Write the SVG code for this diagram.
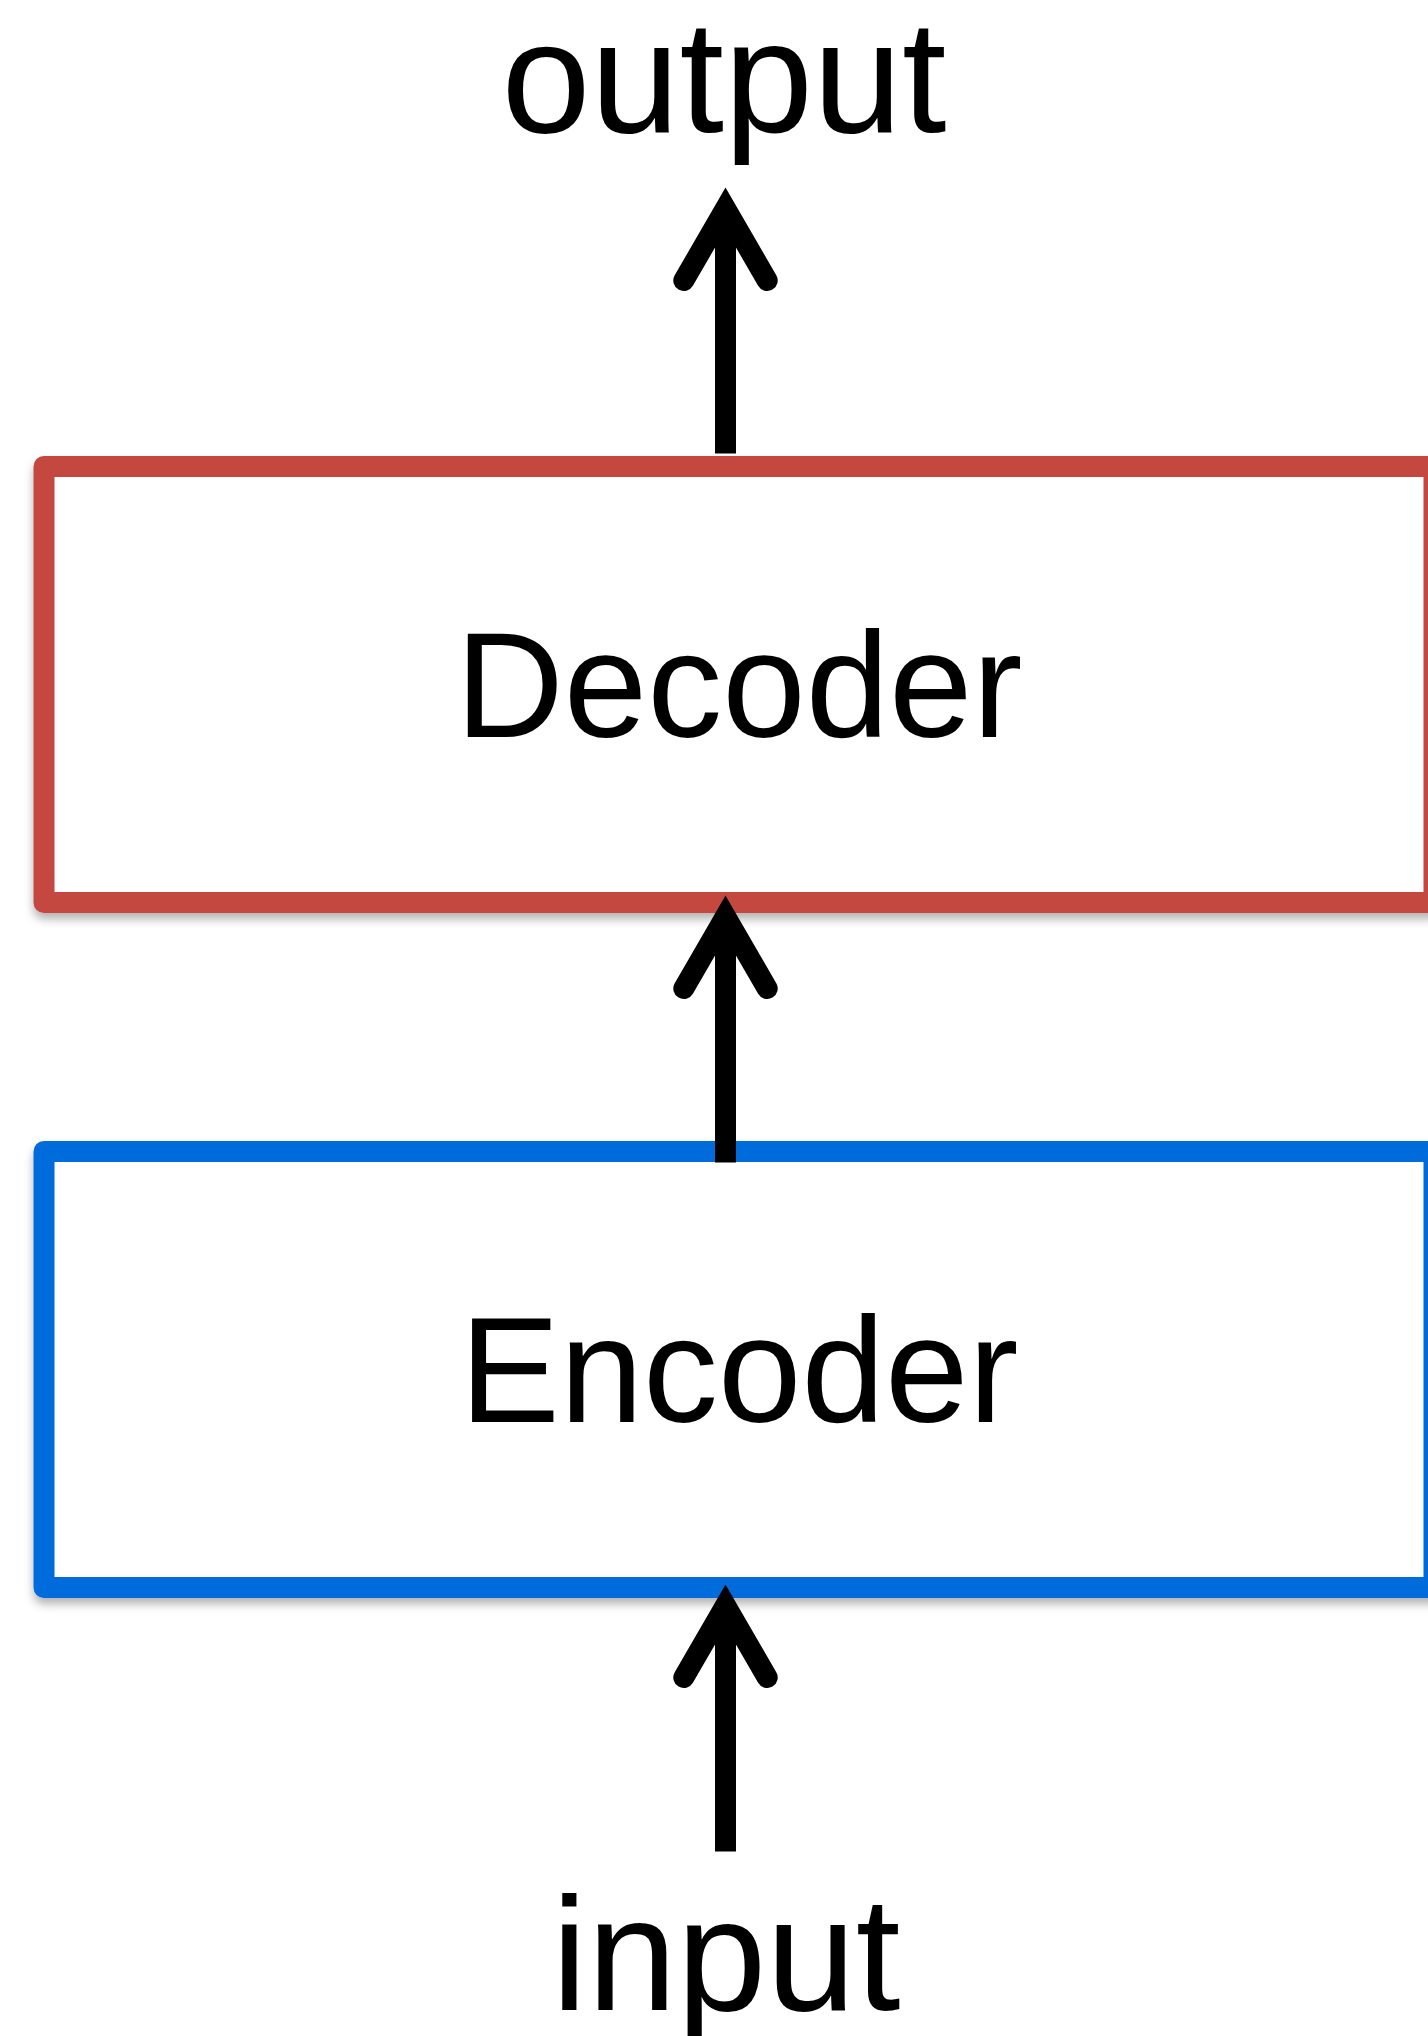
<svg xmlns="http://www.w3.org/2000/svg" xmlns:xlink="http://www.w3.org/1999/xlink" width="1428" height="2036" viewBox="0 0 1428 2036">
<style>
.box{fill:#ffffff;stroke-width:21;stroke-linejoin:round;filter:url(#sh)}
.lbl{font-family:"Liberation Sans",Arial,Helvetica,sans-serif;fill:#000;text-anchor:middle}
.shaft{stroke:#000;stroke-width:21;stroke-linecap:butt;fill:none}
.head{stroke:#000;stroke-width:21;stroke-linecap:round;stroke-linejoin:miter;stroke-miterlimit:10;fill:none}
</style>
<defs>
<filter id="sh" x="-5%" y="-10%" width="110%" height="125%">
<feDropShadow dx="0" dy="6" stdDeviation="5" flood-color="#000" flood-opacity="0.3"/>
</filter>
<path id="ah" class="head" d="M-41.7,72 L0,0 L41.7,72"/>
</defs>
<rect width="1428" height="2036" fill="#ffffff"/>
<g id="decoder">
<rect class="box" x="44" y="466.5" width="1390" height="436" stroke="#C44641"/>
<text class="lbl" x="739" y="737" font-size="150">Decoder</text>
</g>
<g id="encoder">
<rect class="box" x="44" y="1151.5" width="1390" height="436" stroke="#016CDB"/>
<text class="lbl" x="739" y="1422" font-size="150">Encoder</text>
</g>
<g id="output">
<text class="lbl" x="724" y="132" font-size="160">output</text>
</g>
<g id="input">
<text class="lbl" x="726" y="2010" font-size="161">input</text>
</g>
<g id="connectors">
<line class="shaft" x1="725.5" y1="453.5" x2="725.5" y2="212"/>
<use xlink:href="#ah" x="725.5" y="208.5"/>
<line class="shaft" x1="725.5" y1="1162.5" x2="725.5" y2="920"/>
<use xlink:href="#ah" x="725.5" y="916.5"/>
<line class="shaft" x1="725.5" y1="1851.5" x2="725.5" y2="1609"/>
<use xlink:href="#ah" x="725.5" y="1605.5"/>
</g>
</svg>
